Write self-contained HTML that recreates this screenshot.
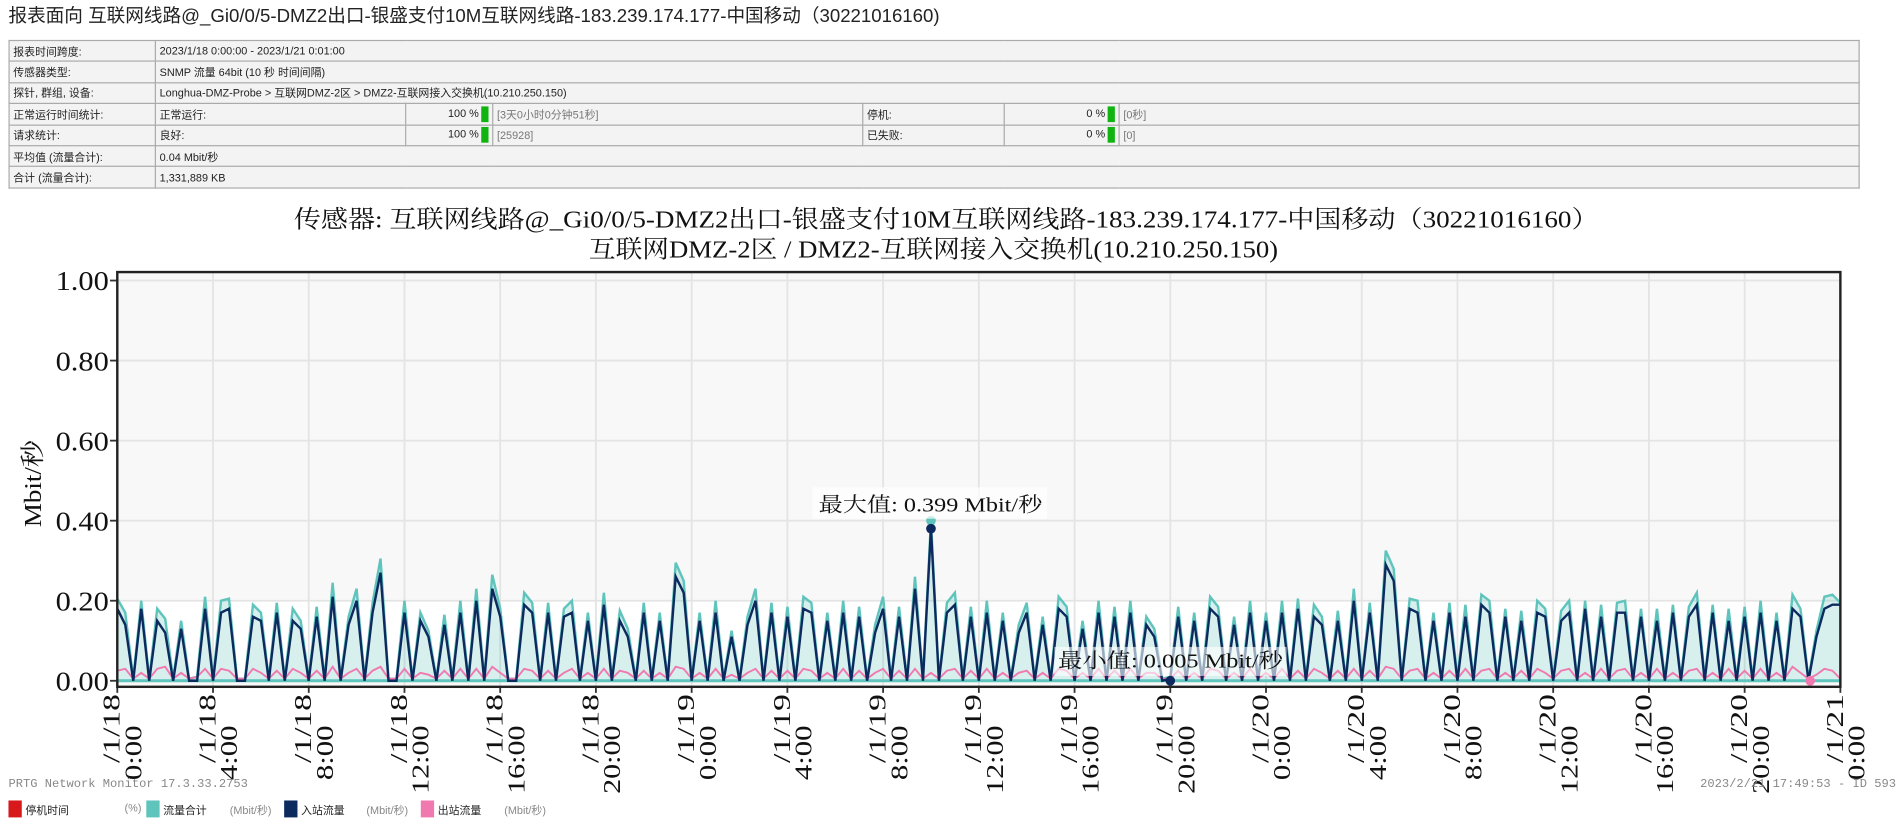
<!DOCTYPE html>
<html><head><meta charset="utf-8">
<style>
html,body{margin:0;padding:0;background:#fff;width:1896px;height:829px;overflow:hidden}
#wrap{position:absolute;left:0;top:0;width:1568px;height:686px;transform:scale(1.20918);transform-origin:0 0}
#title{position:absolute;left:7px;top:1px;font:15.4px "Liberation Sans","Noto Sans CJK SC",sans-serif;color:#222;white-space:nowrap}
table{position:absolute;left:7px;top:33px;width:1531px;border-collapse:collapse;font:9px "Liberation Sans","Noto Sans CJK SC",sans-serif;color:#222}
td{border:1px solid #aaa;background:#f3f3f3;height:16.4px;padding:0 3px;white-space:nowrap}
td.g{color:#777}
.bar{display:inline-block;width:6px;height:13px;background:#11b311;vertical-align:middle;margin-left:2px}
#chart{position:absolute;left:0;top:0}
#footer{position:absolute;left:7px;top:644px;font:10px "Liberation Mono","Noto Sans CJK SC",monospace;color:#888}
#stamp{position:absolute;right:0;top:644px;font:10px "Liberation Mono",monospace;color:#888;white-space:nowrap}
#legend{position:absolute;left:7px;top:662px;font:9px "Liberation Sans","Noto Sans CJK SC",sans-serif;color:#222;white-space:nowrap}
.sw{position:absolute;top:0;width:11px;height:14px}
.lt{position:absolute;top:1px}
.un{position:absolute;top:1px;color:#888}
</style></head><body>
<div id="wrap">
<div id="title">报表面向 互联网线路@_Gi0/0/5-DMZ2出口-银盛支付10M互联网线路-183.239.174.177-中国移动（30221016160)</div>
<table>
<colgroup><col style="width:121px"><col style="width:207px"><col style="width:72px"><col style="width:306px"><col style="width:117px"><col style="width:95px"><col></colgroup>
<tr><td>报表时间跨度:</td><td colspan="6">2023/1/18 0:00:00 - 2023/1/21 0:01:00</td></tr>
<tr><td>传感器类型:</td><td colspan="6">SNMP 流量 64bit (10 秒 时间间隔)</td></tr>
<tr><td>探针, 群组, 设备:</td><td colspan="6">Longhua-DMZ-Probe &gt; 互联网DMZ-2区 &gt; DMZ2-互联网接入交换机(10.210.250.150)</td></tr>
<tr><td>正常运行时间统计:</td><td>正常运行:</td><td style="text-align:right">100 %<span class="bar"></span></td><td class="g">[3天0小时0分钟51秒]</td><td>停机:</td><td style="text-align:right">0 %<span class="bar"></span></td><td class="g">[0秒]</td></tr>
<tr><td>请求统计:</td><td>良好:</td><td style="text-align:right">100 %<span class="bar"></span></td><td class="g">[25928]</td><td>已失败:</td><td style="text-align:right">0 %<span class="bar"></span></td><td class="g">[0]</td></tr>
<tr><td>平均值 (流量合计):</td><td colspan="6">0.04 Mbit/秒</td></tr>
<tr><td>合计 (流量合计):</td><td colspan="6">1,331,889 KB</td></tr>
</table>
<svg id="chart" width="1568" height="686" xmlns="http://www.w3.org/2000/svg"></svg>
<div id="footer">PRTG Network Monitor 17.3.33.2753</div>
<div id="stamp">2023/2/21 17:49:53 - ID 593</div>
<div id="legend">
<span class="sw" style="left:0;background:#d7191c"></span><span class="lt" style="left:14px">停机时间</span><span class="un" style="left:96px">(%)</span>
<span class="sw" style="left:114px;background:#5fc4bc"></span><span class="lt" style="left:128px">流量合计</span><span class="un" style="left:183px">(Mbit/秒)</span>
<span class="sw" style="left:228px;background:#0c2a5e"></span><span class="lt" style="left:242px">入站流量</span><span class="un" style="left:296px">(Mbit/秒)</span>
<span class="sw" style="left:341px;background:#f07ab0"></span><span class="lt" style="left:355px">出站流量</span><span class="un" style="left:410px">(Mbit/秒)</span>
</div>
</div>
<script>
const yTicks = [0, 0.2, 0.4, 0.6, 0.8, 1.0];
const yTickLabels = ["0.00","0.20","0.40","0.60","0.80","1.00"];
const xTickDates = ["/1/18","/1/18","/1/18","/1/18","/1/18","/1/18","/1/19","/1/19","/1/19","/1/19","/1/19","/1/19","/1/20","/1/20","/1/20","/1/20","/1/20","/1/20","/1/21"];
const xTickTimes = ["0:00","4:00","8:00","12:00","16:00","20:00","0:00","4:00","8:00","12:00","16:00","20:00","0:00","4:00","8:00","12:00","16:00","20:00","0:00"];
// inbound traffic, one point every 20 minutes (Mbit/s)
const inbound = [
0.18,0.14,0,0.18,0,0.15,0.12,0,0.13,0,0,0.18,
0,0.17,0.18,0,0,0.16,0.15,0,0.17,0,0.15,0.13,
0,0.16,0,0.21,0,0.14,0.20,0,0.17,0.27,0,0,
0.17,0,0.15,0.11,0,0.14,0,0.17,0,0.20,0,0.23,
0.16,0,0,0.19,0.17,0,0.17,0,0.16,0.17,0,0.15,
0,0.19,0,0.15,0.11,0,0.17,0,0.15,0,0.26,0.22,
0,0.15,0,0.17,0,0.11,0,0.14,0.20,0,0.17,0,
0.16,0,0.18,0.17,0,0.15,0,0.17,0,0.16,0,0.12,
0.18,0,0.16,0,0.23,0,0.38,0,0.17,0.19,0,0.16,
0,0.17,0,0.15,0,0.12,0.17,0,0.14,0,0.18,0.16,
0,0.13,0,0.17,0,0.16,0,0.17,0,0.14,0.11,0,
0.005,0.16,0,0.15,0,0.18,0.16,0,0.14,0,0.17,0,
0.15,0,0.17,0,0.18,0,0.16,0.14,0,0.15,0,0.20,
0,0.17,0,0.29,0.25,0,0.18,0.17,0,0.15,0,0.17,
0,0.16,0,0.19,0.17,0,0.16,0,0.15,0,0.17,0.16,
0,0.15,0.17,0,0.18,0,0.16,0,0.17,0.17,0,0.16,
0,0.15,0,0.17,0,0.16,0.19,0,0.17,0,0.15,0,
0.16,0,0.17,0,0.15,0,0.18,0.16,0,0.11,0.18,0.19,
0.19];
// outbound traffic (Mbit/s)
const outbound = [
0.025,0.03,0.005,0.02,0.005,0.03,0.035,0.005,0.02,0.005,0.01,0.03,
0.005,0.03,0.025,0.005,0.005,0.03,0.02,0.005,0.025,0.005,0.03,0.02,
0.005,0.025,0.005,0.035,0.005,0.02,0.03,0.005,0.025,0.035,0.005,0.005,
0.03,0.005,0.02,0.015,0.005,0.025,0.005,0.03,0.005,0.03,0.005,0.035,
0.02,0.005,0.005,0.03,0.025,0.005,0.025,0.005,0.02,0.03,0.005,0.02,
0.005,0.03,0.005,0.025,0.02,0.005,0.025,0.005,0.02,0.005,0.035,0.03,
0.005,0.02,0.005,0.03,0.005,0.015,0.005,0.02,0.03,0.005,0.025,0.005,
0.025,0.005,0.03,0.025,0.005,0.02,0.005,0.03,0.005,0.025,0.005,0.02,
0.03,0.005,0.025,0.005,0.03,0.005,0.02,0.005,0.025,0.03,0.005,0.025,
0.005,0.03,0.005,0.02,0.005,0.02,0.025,0.005,0.02,0.005,0.03,0.025,
0.005,0.02,0.005,0.03,0.005,0.025,0.005,0.03,0.005,0.02,0.02,0.005,
0.005,0.025,0.005,0.02,0.005,0.03,0.025,0.005,0.02,0.005,0.03,0.005,
0.02,0.005,0.03,0.005,0.025,0.005,0.03,0.02,0.005,0.025,0.005,0.03,
0.005,0.025,0.005,0.035,0.03,0.005,0.025,0.03,0.005,0.02,0.005,0.025,
0.005,0.03,0.005,0.025,0.03,0.005,0.02,0.005,0.025,0.005,0.03,0.02,
0.005,0.025,0.03,0.005,0.02,0.005,0.03,0.005,0.025,0.03,0.005,0.02,
0.005,0.03,0.005,0.02,0.005,0.025,0.03,0.005,0.02,0.005,0.03,0.005,
0.025,0.005,0.03,0.005,0.02,0.005,0.035,0.02,0.005,0.015,0.03,0.025,
0.005];

const NS = "http://www.w3.org/2000/svg";
const svg = document.getElementById('chart');
const L = 97, R = 1522, T = 225, B = 568, Y0 = 563, PER = 66.2 / 0.2;
const HOURS = 72, STEP_H = 1 / 3;
function xs(i) { return L + (i * STEP_H) / HOURS * (R - L); }
function xt(k) { return L + k / (xTickTimes.length - 1) * (R - L); }
function ys(v) { return Y0 - v * PER; }
function mk(tag, attrs) { const e = document.createElementNS(NS, tag); for (const k in attrs) e.setAttribute(k, attrs[k]); svg.appendChild(e); return e; }
const serif = '"Liberation Serif","Noto Serif CJK SC",serif';

let bg = mk('rect', {x: L, y: T, width: R - L, height: B - T, fill: '#f8f8f8'});


let band = mk('rect', {x: L, y: ys(0.2), width: R - L, height: Y0 - ys(0.2), fill: '#ffffff'});



yTicks.forEach((v, i) => {
  const g = mk('line', {x1: L, x2: R, y1: ys(v), y2: ys(v), stroke: '#e4e4e4', 'stroke-width': 1.5});
  
  
  mk('line', {x1: L - 6, x2: L, y1: ys(v), y2: ys(v), stroke: '#333', 'stroke-width': 1.5});
  const t = mk('text', {x: 90, y: ys(v) + 8, 'text-anchor': 'end', 'font-family': serif, 'font-size': 23, fill: '#111', textLength: 44, lengthAdjust: 'spacingAndGlyphs'});
  t.textContent = yTickLabels[i];
  
  
});
xTickTimes.forEach((tm, k) => {
  const x = xt(k);
  const g = mk('line', {x1: x, x2: x, y1: T, y2: B, stroke: '#e4e4e4', 'stroke-width': 1.5});
  
  
  mk('line', {x1: x, x2: x, y1: B, y2: B + 5, stroke: '#333', 'stroke-width': 1.5});
  const t1 = mk('text', {transform: `translate(${x + 2},574) rotate(-90)`, 'text-anchor': 'end', 'font-family': serif, 'font-size': 20, fill: '#111', textLength: 57, lengthAdjust: 'spacingAndGlyphs'});
  t1.textContent = xTickDates[k];
  
  
  const t2 = mk('text', {transform: `translate(${x + 20},600) rotate(-90)`, 'text-anchor': 'end', 'font-family': serif, 'font-size': 20, fill: '#111', textLength: tm.length * 11.3, lengthAdjust: 'spacingAndGlyphs'});
  t2.textContent = tm;
  
  
});

const total = inbound.map((v, i) => v + outbound[i]);
function pts(arr) { return arr.map((v, i) => xs(i).toFixed(1) + ',' + ys(v).toFixed(1)).join(' '); }
let area = mk('polygon', {points: xs(0) + ',' + Y0 + ' ' + pts(total) + ' ' + xs(total.length - 1) + ',' + Y0, fill: '#5fc4bc', 'fill-opacity': 0.25});


let lt = mk('polyline', {points: pts(total), fill: 'none', stroke: '#5fc4bc', 'stroke-width': 2});


let base = mk('line', {x1: L, x2: R, y1: Y0, y2: Y0, stroke: '#5fc4bc', 'stroke-width': 2.5});


let lo = mk('polyline', {points: pts(outbound), fill: 'none', stroke: '#f07ab0', 'stroke-width': 1.6});


let li = mk('polyline', {points: pts(inbound), fill: 'none', stroke: '#0c2a5e', 'stroke-width': 2});



const iMax = total.indexOf(Math.max(...total));
let mt = mk('circle', {cx: xs(iMax), cy: ys(total[iMax]), r: 4, fill: '#5fc4bc'});


let mi = mk('circle', {cx: xs(iMax), cy: ys(inbound[iMax]), r: 4, fill: '#0c2a5e'});


mk('rect', {x: 672, y: 403, width: 194, height: 26, fill: '#fff', 'fill-opacity': 0.7});
let mxt = mk('text', {x: 677, y: 423, 'font-family': serif, 'font-size': 17, fill: '#111', textLength: 185, lengthAdjust: 'spacingAndGlyphs'});
mxt.textContent = '最大值: 0.399 Mbit/秒';


const iMin = inbound.indexOf(0.005);
let mnm = mk('circle', {cx: xs(iMin), cy: ys(0), r: 4, fill: '#0c2a5e'});


mk('rect', {x: 872, y: 535, width: 192, height: 24, fill: '#fff', 'fill-opacity': 0.6});
let mnt = mk('text', {x: 875, y: 552, 'font-family': serif, 'font-size': 17, fill: '#111', textLength: 186, lengthAdjust: 'spacingAndGlyphs'});
mnt.textContent = '最小值: 0.005 Mbit/秒';


let pm = mk('circle', {cx: 1497, cy: Y0, r: 4, fill: '#f07ab0'});



let fr = mk('rect', {x: L, y: T, width: R - L, height: B - T, fill: 'none', stroke: '#222', 'stroke-width': 2});



let t1 = mk('text', {x: 243, y: 188, 'font-family': serif, 'font-size': 20, fill: '#111', textLength: 1079, lengthAdjust: 'spacingAndGlyphs'});
t1.textContent = '传感器: 互联网线路@_Gi0/0/5-DMZ2出口-银盛支付10M互联网线路-183.239.174.177-中国移动（30221016160）';


let t2 = mk('text', {x: 487, y: 213, 'font-family': serif, 'font-size': 20, fill: '#111', textLength: 570, lengthAdjust: 'spacingAndGlyphs'});
t2.textContent = '互联网DMZ-2区 / DMZ2-互联网接入交换机(10.210.250.150)';


let yt = mk('text', {transform: 'translate(34,400) rotate(-90)', 'text-anchor': 'middle', 'font-family': serif, 'font-size': 20, fill: '#111', textLength: 72, lengthAdjust: 'spacingAndGlyphs'});
yt.textContent = 'Mbit/秒';


</script>
</body></html>
